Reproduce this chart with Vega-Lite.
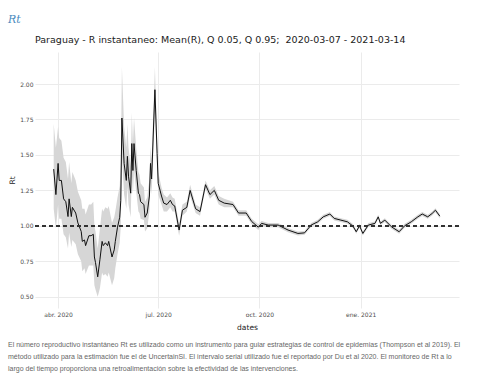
{
  "$schema": "https://vega.github.io/schema/vega-lite/v6.json",
  "padding": {"left": 8, "top": 13, "right": 5, "bottom": 5},
  "background": "white",
  "title": {"text": "Rt", "anchor": "start", "frame": "bounds", "font": "DejaVu Serif", "fontStyle": "italic", "fontWeight": "normal", "fontSize": 11, "color": "#4b8bbe", "offset": 10},
  "spacing": 9,
  "vconcat": [
    {
      "width": 424,
      "height": 256,
      "title": {"text": "Paraguay - R instantaneo: Mean(R), Q 0.05, Q 0.95;\u00a0 2020-03-07 - 2021-03-14", "anchor": "start", "frame": "group", "font": "DejaVu Sans", "fontSize": 9.5, "fontWeight": "normal", "color": "#1a1a1a", "offset": 8},
      "data": {"values": [
        {"date": "2020-03-28", "m": 1.40, "lo": 1.12, "hi": 1.72},
        {"date": "2020-03-30", "m": 1.22, "lo": 0.98, "hi": 1.55},
        {"date": "2020-04-01", "m": 1.44, "lo": 1.15, "hi": 1.70},
        {"date": "2020-04-02", "m": 1.32, "lo": 1.05, "hi": 1.62},
        {"date": "2020-04-04", "m": 1.32, "lo": 1.05, "hi": 1.60},
        {"date": "2020-04-06", "m": 1.19, "lo": 0.94, "hi": 1.48},
        {"date": "2020-04-08", "m": 1.17, "lo": 0.92, "hi": 1.45},
        {"date": "2020-04-10", "m": 1.065, "lo": 0.84, "hi": 1.33},
        {"date": "2020-04-11", "m": 1.19, "lo": 0.95, "hi": 1.45},
        {"date": "2020-04-13", "m": 1.065, "lo": 0.85, "hi": 1.30},
        {"date": "2020-04-14", "m": 1.13, "lo": 0.90, "hi": 1.38},
        {"date": "2020-04-17", "m": 1.09, "lo": 0.87, "hi": 1.32},
        {"date": "2020-04-19", "m": 1.02, "lo": 0.80, "hi": 1.24},
        {"date": "2020-04-22", "m": 0.96, "lo": 0.75, "hi": 1.18},
        {"date": "2020-04-23", "m": 0.89, "lo": 0.68, "hi": 1.12},
        {"date": "2020-04-25", "m": 0.90, "lo": 0.70, "hi": 1.12},
        {"date": "2020-04-26", "m": 0.86, "lo": 0.66, "hi": 1.08},
        {"date": "2020-04-29", "m": 0.93, "lo": 0.72, "hi": 1.15},
        {"date": "2020-05-01", "m": 0.93, "lo": 0.72, "hi": 1.15},
        {"date": "2020-05-03", "m": 0.94, "lo": 0.72, "hi": 1.17},
        {"date": "2020-05-04", "m": 0.78, "lo": 0.58, "hi": 1.00},
        {"date": "2020-05-05", "m": 0.74, "lo": 0.55, "hi": 0.96},
        {"date": "2020-05-07", "m": 0.64, "lo": 0.50, "hi": 0.84},
        {"date": "2020-05-09", "m": 0.76, "lo": 0.56, "hi": 0.98},
        {"date": "2020-05-11", "m": 0.89, "lo": 0.67, "hi": 1.12},
        {"date": "2020-05-12", "m": 0.86, "lo": 0.65, "hi": 1.10},
        {"date": "2020-05-14", "m": 0.88, "lo": 0.66, "hi": 1.13},
        {"date": "2020-05-16", "m": 0.86, "lo": 0.64, "hi": 1.12},
        {"date": "2020-05-17", "m": 0.89, "lo": 0.67, "hi": 1.14},
        {"date": "2020-05-20", "m": 0.78, "lo": 0.58, "hi": 1.02},
        {"date": "2020-05-22", "m": 0.83, "lo": 0.63, "hi": 1.06},
        {"date": "2020-05-23", "m": 0.89, "lo": 0.70, "hi": 1.10},
        {"date": "2020-05-25", "m": 0.99, "lo": 0.80, "hi": 1.20},
        {"date": "2020-05-27", "m": 1.06, "lo": 0.88, "hi": 1.28},
        {"date": "2020-05-28", "m": 1.18, "lo": 1.00, "hi": 1.45},
        {"date": "2020-05-29", "m": 1.76, "lo": 1.50, "hi": 2.12},
        {"date": "2020-05-31", "m": 1.44, "lo": 1.22, "hi": 1.70},
        {"date": "2020-06-02", "m": 1.32, "lo": 1.12, "hi": 1.55},
        {"date": "2020-06-03", "m": 1.49, "lo": 1.28, "hi": 1.72},
        {"date": "2020-06-04", "m": 1.35, "lo": 1.15, "hi": 1.55},
        {"date": "2020-06-06", "m": 1.23, "lo": 1.06, "hi": 1.42},
        {"date": "2020-06-07", "m": 1.58, "lo": 1.38, "hi": 1.80},
        {"date": "2020-06-08", "m": 1.39, "lo": 1.22, "hi": 1.58},
        {"date": "2020-06-09", "m": 1.58, "lo": 1.40, "hi": 1.76},
        {"date": "2020-06-11", "m": 1.39, "lo": 1.24, "hi": 1.55},
        {"date": "2020-06-13", "m": 1.23, "lo": 1.10, "hi": 1.38},
        {"date": "2020-06-14", "m": 1.22, "lo": 1.09, "hi": 1.36},
        {"date": "2020-06-15", "m": 1.17, "lo": 1.05, "hi": 1.30},
        {"date": "2020-06-18", "m": 1.15, "lo": 1.04, "hi": 1.27},
        {"date": "2020-06-19", "m": 1.06, "lo": 0.96, "hi": 1.17},
        {"date": "2020-06-21", "m": 1.09, "lo": 0.98, "hi": 1.20},
        {"date": "2020-06-23", "m": 1.21, "lo": 1.10, "hi": 1.33},
        {"date": "2020-06-24", "m": 1.44, "lo": 1.32, "hi": 1.56},
        {"date": "2020-06-25", "m": 1.33, "lo": 1.22, "hi": 1.46},
        {"date": "2020-06-28", "m": 1.96, "lo": 1.80, "hi": 2.12},
        {"date": "2020-06-30", "m": 1.51, "lo": 1.40, "hi": 1.62},
        {"date": "2020-07-01", "m": 1.30, "lo": 1.22, "hi": 1.38},
        {"date": "2020-07-04", "m": 1.21, "lo": 1.15, "hi": 1.27},
        {"date": "2020-07-06", "m": 1.16, "lo": 1.10, "hi": 1.22},
        {"date": "2020-07-09", "m": 1.15, "lo": 1.10, "hi": 1.20},
        {"date": "2020-07-12", "m": 1.18, "lo": 1.13, "hi": 1.23},
        {"date": "2020-07-14", "m": 1.15, "lo": 1.10, "hi": 1.20},
        {"date": "2020-07-16", "m": 1.14, "lo": 1.10, "hi": 1.19},
        {"date": "2020-07-20", "m": 0.97, "lo": 0.93, "hi": 1.01},
        {"date": "2020-07-23", "m": 1.11, "lo": 1.07, "hi": 1.15},
        {"date": "2020-07-27", "m": 1.13, "lo": 1.10, "hi": 1.17},
        {"date": "2020-07-30", "m": 1.25, "lo": 1.21, "hi": 1.29},
        {"date": "2020-08-04", "m": 1.12, "lo": 1.09, "hi": 1.15},
        {"date": "2020-08-08", "m": 1.10, "lo": 1.07, "hi": 1.13},
        {"date": "2020-08-13", "m": 1.29, "lo": 1.26, "hi": 1.32},
        {"date": "2020-08-17", "m": 1.22, "lo": 1.19, "hi": 1.25},
        {"date": "2020-08-21", "m": 1.25, "lo": 1.22, "hi": 1.28},
        {"date": "2020-08-25", "m": 1.18, "lo": 1.15, "hi": 1.21},
        {"date": "2020-08-30", "m": 1.16, "lo": 1.13, "hi": 1.19},
        {"date": "2020-09-07", "m": 1.15, "lo": 1.13, "hi": 1.17},
        {"date": "2020-09-12", "m": 1.09, "lo": 1.07, "hi": 1.11},
        {"date": "2020-09-19", "m": 1.09, "lo": 1.07, "hi": 1.11},
        {"date": "2020-09-24", "m": 1.03, "lo": 1.01, "hi": 1.05},
        {"date": "2020-09-30", "m": 0.99, "lo": 0.97, "hi": 1.01},
        {"date": "2020-10-03", "m": 1.017, "lo": 1.0, "hi": 1.034},
        {"date": "2020-10-09", "m": 1.005, "lo": 0.99, "hi": 1.02},
        {"date": "2020-10-18", "m": 1.005, "lo": 0.99, "hi": 1.02},
        {"date": "2020-10-27", "m": 0.97, "lo": 0.955, "hi": 0.985},
        {"date": "2020-11-05", "m": 0.946, "lo": 0.932, "hi": 0.96},
        {"date": "2020-11-11", "m": 0.95, "lo": 0.936, "hi": 0.964},
        {"date": "2020-11-17", "m": 1.005, "lo": 0.991, "hi": 1.019},
        {"date": "2020-11-23", "m": 1.028, "lo": 1.014, "hi": 1.042},
        {"date": "2020-11-28", "m": 1.063, "lo": 1.049, "hi": 1.077},
        {"date": "2020-12-04", "m": 1.083, "lo": 1.069, "hi": 1.097},
        {"date": "2020-12-08", "m": 1.052, "lo": 1.038, "hi": 1.066},
        {"date": "2020-12-14", "m": 1.04, "lo": 1.026, "hi": 1.054},
        {"date": "2020-12-20", "m": 1.028, "lo": 1.014, "hi": 1.042},
        {"date": "2020-12-25", "m": 0.998, "lo": 0.984, "hi": 1.012},
        {"date": "2020-12-28", "m": 0.958, "lo": 0.944, "hi": 0.972},
        {"date": "2020-12-31", "m": 1.0, "lo": 0.986, "hi": 1.014},
        {"date": "2021-01-03", "m": 0.946, "lo": 0.932, "hi": 0.96},
        {"date": "2021-01-08", "m": 1.005, "lo": 0.991, "hi": 1.019},
        {"date": "2021-01-14", "m": 1.017, "lo": 1.003, "hi": 1.031},
        {"date": "2021-01-17", "m": 1.063, "lo": 1.049, "hi": 1.077},
        {"date": "2021-01-19", "m": 1.017, "lo": 1.003, "hi": 1.031},
        {"date": "2021-01-23", "m": 1.04, "lo": 1.026, "hi": 1.054},
        {"date": "2021-01-29", "m": 0.993, "lo": 0.979, "hi": 1.007},
        {"date": "2021-02-05", "m": 0.958, "lo": 0.944, "hi": 0.972},
        {"date": "2021-02-10", "m": 1.0, "lo": 0.986, "hi": 1.014},
        {"date": "2021-02-16", "m": 1.028, "lo": 1.014, "hi": 1.042},
        {"date": "2021-02-22", "m": 1.063, "lo": 1.049, "hi": 1.077},
        {"date": "2021-02-26", "m": 1.083, "lo": 1.069, "hi": 1.097},
        {"date": "2021-03-03", "m": 1.063, "lo": 1.049, "hi": 1.077},
        {"date": "2021-03-07", "m": 1.087, "lo": 1.073, "hi": 1.101},
        {"date": "2021-03-10", "m": 1.11, "lo": 1.096, "hi": 1.124},
        {"date": "2021-03-14", "m": 1.068, "lo": 1.054, "hi": 1.082}
      ]},
      "layer": [
        {
          "mark": {"type": "area", "color": "#d6d6d6", "opacity": 1},
          "encoding": {
            "x": {
              "field": "date", "type": "temporal",
              "scale": {"type": "utc", "domain": [{"year": 2020, "month": 3, "date": 11, "utc": true}, {"year": 2021, "month": 3, "date": 31, "hours": 10, "utc": true}]},
              "axis": {
                "title": "dates", "labelPadding": 3, "titlePadding": 6,
                "values": [{"year": 2020, "month": 4, "date": 1, "utc": true}, {"year": 2020, "month": 7, "date": 1, "utc": true}, {"year": 2020, "month": 10, "date": 1, "utc": true}, {"year": 2021, "month": 1, "date": 1, "utc": true}],
                "labelExpr": "['ene.','feb.','mar.','abr.','may.','jun.','jul.','ago.','sep.','oct.','nov.','dic.'][utcmonth(datum.value)] + ' ' + utcyear(datum.value)"
              }
            },
            "y": {
              "field": "lo", "type": "quantitative",
              "scale": {"domain": [0.42, 2.226], "nice": false, "zero": false},
              "axis": {"title": "Rt", "values": [0.5, 0.75, 1, 1.25, 1.5, 1.75, 2], "format": ".2f", "labelPadding": 2, "titlePadding": 3}
            },
            "y2": {"field": "hi"}
          }
        },
        {
          "mark": {"type": "line", "color": "#111111", "strokeWidth": 1},
          "encoding": {
            "x": {"field": "date", "type": "temporal"},
            "y": {"field": "m", "type": "quantitative"}
          }
        },
        {
          "mark": {"type": "rule", "color": "#333333", "strokeDash": [4, 3], "strokeWidth": 1},
          "encoding": {"y": {"datum": 1, "type": "quantitative"}}
        }
      ]
    },
    {
      "width": 424,
      "height": 1,
      "title": {
        "text": [
          "El número reproductivo instantáneo Rt es utilizado como un instrumento para guiar estrategias de control de epidemias (Thompson et al 2019). El",
          "método utilizado para la estimación fue el de UncertainSI. El intervalo serial utilizado fue el reportado por Du et al 2020. El monitoreo de Rt a lo",
          "largo del tiempo proporciona una retroalimentación sobre la efectividad de las intervenciones."
        ],
        "anchor": "start", "frame": "group", "dx": -27, "font": "Liberation Sans", "fontSize": 7, "fontWeight": "normal", "color": "#666666", "lineHeight": 12, "offset": 0
      },
      "data": {"values": [{}]},
      "mark": {"type": "rule", "opacity": 0},
      "encoding": {}
    }
  ],
  "config": {
    "view": {"stroke": null},
    "axis": {
      "domain": false, "ticks": false, "grid": true, "gridColor": "#ebebeb", "gridWidth": 1,
      "labelFont": "DejaVu Sans", "labelFontSize": 6, "labelColor": "#4d4d4d",
      "titleFont": "DejaVu Sans", "titleFontSize": 7.5, "titleFontWeight": "normal", "titleColor": "#1a1a1a"
    }
  }
}
